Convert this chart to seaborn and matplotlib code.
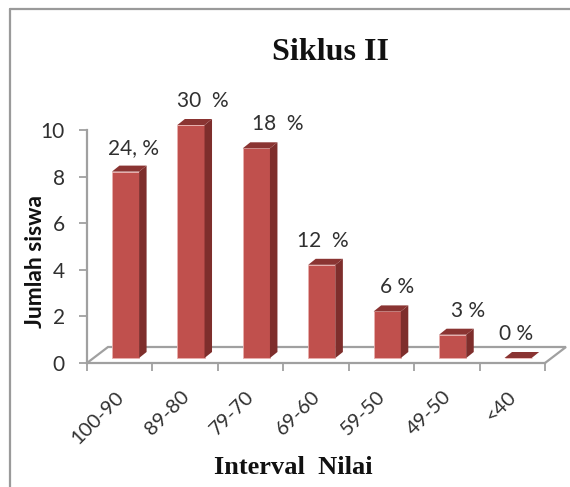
import matplotlib
matplotlib.use("Agg")
import matplotlib.pyplot as plt
import seaborn as sns
from matplotlib.patches import Polygon
from matplotlib.transforms import ScaledTranslation

categories = ["100-90", "89-80", "79-70", "69-60", "59-50", "49-50", "<40"]
siswa = [8, 10, 9, 4, 2, 1, 0]
percent_labels = ["24, %", "30  %", "18  %", "12  %", "6 %", "3 %", "0 %"]
label_nudge_px = [8, 12, 21, 1, 10, 15, -2]
y_ticks = [0, 2, 4, 6, 8, 10]

FRONT, SIDE, TOP = "#C0504D", "#7E2E2C", "#8A3432"
AXIS = "#A0A0A0"
TEXT = "#303030"
W, H = 570, 487
L, R, T, B = 87, 545, 130, 363

sns.set_theme(style="white")
fig = plt.figure(figsize=(W / 100, H / 100), dpi=100, facecolor="white")
ax = fig.add_axes([L / W, 1 - B / H, (R - L) / W, (B - T) / H])
ax.patch.set_alpha(0)

sns.barplot(x=categories, y=siswa, order=categories, width=0.415, color=FRONT,
            saturation=1, ax=ax, zorder=3)
ax.set_xlim(-0.5, 6.5)
ax.set_ylim(0, 10)

px_x = 7.5 / 65.43
px_y = 1 / 23.3
dx, dy = px_x, 6 * px_y
shift = 5.8 / 65.43
base = 5 * px_y

for patch, val, lab, nudge in zip(ax.patches, siswa, percent_labels, label_nudge_px):
    x0 = patch.get_x() + shift
    w = patch.get_width()
    patch.set_x(x0)
    patch.set_y(base)
    patch.set_height(val)
    patch.set_clip_on(False)
    patch.set_edgecolor("#E8B0AE")
    patch.set_linewidth(0.6)
    x1 = x0 + w
    top = base + val
    ax.add_patch(Polygon([(x1, base), (x1 + dx, base + dy), (x1 + dx, top + dy), (x1, top)],
                         closed=True, fc=SIDE, ec="none", clip_on=False, zorder=3))
    ax.add_patch(Polygon([(x0, top), (x0 + dx, top + dy), (x1 + dx, top + dy), (x1, top)],
                         closed=True, fc=TOP, ec="none", clip_on=False, zorder=3))
    ax.annotate(lab, xy=(x0 + w / 2, top), xytext=(nudge * 0.72, 24 * 0.72),
                textcoords="offset points", ha="center", va="center",
                fontsize=15, family="Lato", color=TEXT, annotation_clip=False, zorder=5)

# floor of the 3-D box
fx, fy = 21 / 65.43, 16 * px_y
ax.plot([-0.5, -0.5 + fx, 6.5 + fx, 6.5], [0, fy, fy, 0], color=AXIS, lw=1.6,
        clip_on=False, zorder=2, solid_joinstyle="miter")

for s in ("top", "right"):
    ax.spines[s].set_visible(False)
for s in ("left", "bottom"):
    ax.spines[s].set_color(AXIS)
    ax.spines[s].set_linewidth(1.6)

ax.set_yticks(y_ticks)
ax.set_yticklabels([str(v) for v in y_ticks], fontsize=15, family="Lato", color=TEXT)
ax.set_xticks([i - 0.5 for i in range(len(categories) + 1)])
ax.set_xticklabels([""] * (len(categories) + 1))
ax.set_xticks(range(len(categories)), minor=True)
ax.set_xticklabels(categories, minor=True, rotation=45, ha="right", rotation_mode="anchor",
                   fontsize=14.5, family="Lato", color=TEXT)
ax.tick_params(axis="x", which="major", length=6, width=1.3, color=AXIS, bottom=True)
ax.tick_params(axis="x", which="minor", length=0, pad=18, bottom=True)
ax.tick_params(axis="y", length=6, width=1.3, color=AXIS, pad=10, left=True)
for t in ax.get_xticklabels(minor=True):
    t.set_transform(t.get_transform() + ScaledTranslation(-5 / 100, 0, fig.dpi_scale_trans))

ax.set_xlabel("")
ax.set_ylabel("")
fig.text(331 / W, 1 - 53 / H, "Siklus II", family="Liberation Serif", weight="bold",
         fontsize=23, ha="center", va="center", color="#111111")
fig.text(293 / W, 1 - 468 / H, "Interval  Nilai", family="Liberation Serif", weight="bold",
         fontsize=19, ha="center", va="center", color="#111111")
fig.text(35 / W, 1 - 262 / H, "Jumlah siswa", family="Lato", weight="bold", rotation=90,
         fontsize=16.5, ha="center", va="center", color="#111111")

# chart-area border: only the top and left edges show in the crop
fig.add_artist(plt.Line2D([10 / W, 10 / W], [0, 1 - 9 / H], color="#9A9A9A", lw=1.6))
fig.add_artist(plt.Line2D([10 / W, 1], [1 - 9 / H, 1 - 9 / H], color="#9A9A9A", lw=1.6))

fig.savefig("out.png", dpi=100, facecolor="white")
